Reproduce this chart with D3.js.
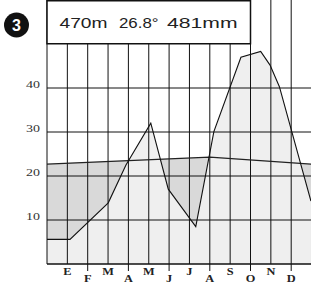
<!DOCTYPE html>
<html>
<head>
<meta charset="utf-8">
<script src="https://cdnjs.cloudflare.com/ajax/libs/d3/7.8.5/d3.min.js"></script>
<style>
  body { margin: 0; background: #fff; }
  svg { display: block; }
</style>
</head>
<body>
<div id="chart"></div>
<script>
// climate diagram data (month position, value)
var months = ["E", "F", "M", "A", "M", "J", "J", "A", "S", "O", "N", "D"];
var yTicks = [10, 20, 30, 40];
var tempPos = [0, 8, 13];
var tempVal = [22.7, 24.3, 22.7];
var rainPos = [0, 1.13, 3.01, 3.88, 5.1, 5.96, 7.31, 8.2, 9.53, 10.5, 10.96, 11.42, 12.97];
var rainVal = [5.6, 5.6, 13.9, 22.5, 32.0, 17.0, 8.5, 30.1, 47.0, 48.3, 45.2, 40.3, 14.3];
var headerParts = ["470m", "26.8°", "481mm"];
var badgeLabel = "3";

var svgWidth = 311;
var svgHeight = 289;

var svg = d3.select("#chart")
  .append("svg")
  .attr("width", svgWidth)
  .attr("height", svgHeight);

// scales
var x = d3.scaleLinear().domain([0, 13]).range([47, 311.55]);
var y = d3.scaleLinear().domain([0, 50]).range([264, 44]);

var tempData = tempPos.map((p, i) => ({ p: p, v: tempVal[i] }));
var rainData = rainPos.map((p, i) => ({ p: p, v: rainVal[i] }));

var area = d3.area()
  .x(d => x(d.p))
  .y0(y(0))
  .y1(d => y(d.v));

var line = d3.line()
  .x(d => x(d.p))
  .y(d => y(d.v));

// dry season shows through as darker gray
svg.append("path")
  .datum(tempData)
  .attr("d", area)
  .attr("fill", "#d9d9d9");

svg.append("path")
  .datum(rainData)
  .attr("d", area)
  .attr("fill", "#efefef");

// grid
svg.append("g")
  .selectAll("line")
  .data(d3.range(0, 13))
  .enter()
  .append("line")
  .attr("x1", d => x(d))
  .attr("x2", d => x(d))
  .attr("y1", 0)
  .attr("y2", y(0))
  .attr("stroke", "#111")
  .attr("stroke-width", 1);

svg.append("g")
  .selectAll("line")
  .data(yTicks)
  .enter()
  .append("line")
  .attr("x1", x(0))
  .attr("x2", svgWidth)
  .attr("y1", d => y(d))
  .attr("y2", d => y(d))
  .attr("stroke", "#111")
  .attr("stroke-width", 1);

// bottom axis + ticks under the lower labels
svg.append("line")
  .attr("x1", x(0))
  .attr("x2", svgWidth)
  .attr("y1", y(0))
  .attr("y2", y(0))
  .attr("stroke", "#111")
  .attr("stroke-width", 1.5);

svg.append("g")
  .selectAll("line")
  .data(months.map((m, i) => i + 1).filter(d => d % 2 === 0))
  .enter()
  .append("line")
  .attr("x1", d => x(d))
  .attr("x2", d => x(d))
  .attr("y1", y(0))
  .attr("y2", y(0) + 7)
  .attr("stroke", "#111")
  .attr("stroke-width", 1);

// curves
svg.append("path")
  .datum(tempData)
  .attr("d", line)
  .attr("fill", "none")
  .attr("stroke", "#222")
  .attr("stroke-width", 1.1);

svg.append("path")
  .datum(rainData)
  .attr("d", line)
  .attr("fill", "none")
  .attr("stroke", "#111")
  .attr("stroke-width", 1.1);

// header box
svg.append("rect")
  .attr("x", x(0))
  .attr("y", 0.75)
  .attr("width", x(10) - x(0))
  .attr("height", 43)
  .attr("fill", "#fff")
  .attr("stroke", "#111")
  .attr("stroke-width", 1.5);

// the header text is stretched wide, so fit each part to its span
var headerX = [59.5, 119, 167];
var headerW = [48, 39.5, 70.5];
svg.append("g")
  .selectAll("text")
  .data(headerParts)
  .enter()
  .append("text")
  .attr("x", (d, i) => headerX[i])
  .attr("y", 27.5)
  .attr("textLength", (d, i) => headerW[i])
  .attr("lengthAdjust", "spacingAndGlyphs")
  .attr("font-family", "Liberation Sans, Arial, sans-serif")
  .attr("font-size", 14)
  .attr("fill", "#222")
  .text(d => d);

// numbered badge
svg.append("circle")
  .attr("cx", 16.5)
  .attr("cy", 25)
  .attr("r", 12.5)
  .attr("fill", "#111");

svg.append("text")
  .attr("x", 16.5)
  .attr("y", 30.5)
  .attr("text-anchor", "middle")
  .attr("font-family", "Liberation Sans, Arial, sans-serif")
  .attr("font-weight", "bold")
  .attr("font-size", 16)
  .attr("fill", "#fff")
  .text(badgeLabel);

// y labels
svg.append("g")
  .selectAll("text")
  .data(yTicks)
  .enter()
  .append("text")
  .attr("transform", d => `translate(40, ${y(d) - 0.5}) scale(1.4, 1)`)
  .attr("text-anchor", "end")
  .attr("font-family", "Liberation Serif, serif")
  .attr("font-size", 10)
  .attr("fill", "#333")
  .text(d => d);

// month labels, alternating rows
svg.append("g")
  .selectAll("text")
  .data(months)
  .enter()
  .append("text")
  .attr("transform", (d, i) => `translate(${x(i + 1)}, ${i % 2 === 0 ? 275 : 282}) scale(1.3, 1)`)
  .attr("text-anchor", "middle")
  .attr("font-family", "Liberation Serif, serif")
  .attr("font-size", 9.5)
  .attr("font-weight", "bold")
  .attr("fill", "#222")
  .text(d => d);
</script>
</body>
</html>
